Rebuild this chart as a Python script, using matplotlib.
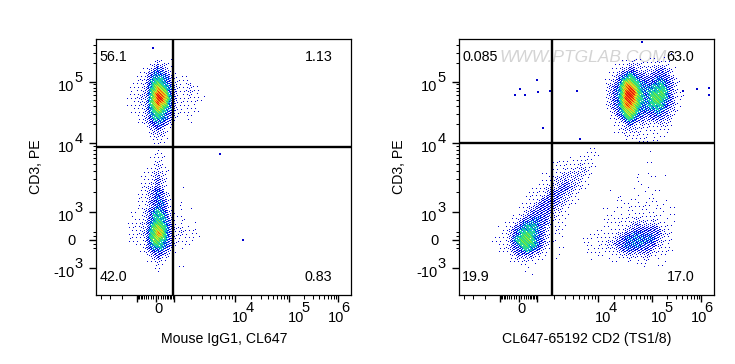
import numpy as np
import matplotlib
matplotlib.use("Agg")
import matplotlib.pyplot as plt
from matplotlib.colors import LinearSegmentedColormap
from matplotlib.transforms import blended_transform_factory

plt.rcParams['font.family'] = ['Liberation Sans', 'DejaVu Sans']

# ---- data: event density, digit 0 (none) .. 9 (peak), one digit per 4 px cell
density_left = [
"00000000100100000000","00000001211000000000","00000012322000000000","00000123432100000000",
"00001234443210100000","00011235554321011000","00111245654321111000","00111246765431112110",
"01111256876431112110","01112257987431112110","01112257997531111111","01112257987431111110",
"01111256876431111100","00111246765431111110","00111245654321111000","00011235554321001000",
"00001234443210001000","00000123432100000000","00000022321000000000","00000012221100000000",
"00000011211000000000","00000001111000000000","00000001100000000000","00000000100000000000",
"00000001110000000000","00000001111000000000","00000001210000000000","00000001211000000000",
"00000011211000000000","00000112221000001000","00001112321000000000","00001112321000000000",
"00001122321000100000","00011123431000000000","00011123432100100000","00011123432100000000",
"00011133443100100000","00011123443100000000","00101234543110100100","00101235554210000000",
"00111235554210100000","00111245654310100100","01112246765321110000","01112256775321211100",
"01112256875321211110","01111256765321111100","01111246654321111000","00011245554310101000",
"00001234443210000000","00000123332100000000","00000012321100000000","00000011210000000000",
"00000001110000100000","00000000100000000000",
]
density_right_top = [
"000000000000010001000","000000100100010101000","000001112111111111000","000011122211122221000",
"000112233222223322100","001123454332233332100","001134565433334433200","011235776544344543210",
"012346887644455543210","012346898654555653210","012346999654566653211","012346998654566654211",
"012346898654566543210","012346887644555543210","001235777544445432210","001234676443334332100",
"001123565332333322100","000112343222222221000","000111232121111211000","000011222111111111000",
"000001211211111010000","000000111111010110000","000000101011011000000",
]
density_right_low = [
"0000000000000000000000000110000000000000100000000",
"0000000000000000000000001111000000000000100000000",
"0000000000000000000010011110000000000000000000000",
"0000000000000000111111111110000000000000100000000",
"0000000000000000011111121110000000000000000000000",
"0000000000000100111212122100000000000000000000000",
"0000000000000110112222221100000000000100100010000",
"0000000000000011122222221100000000000000010000000",
"0000000000001111122322211000000000000100000010000",
"0000000000001112223332211000000000000010100000000",
"0000000000011122233322110000001000001001001000000",
"0000000000111123333221100000000000000101010100000",
"0000000001111233332211100000000011001000110010000",
"0000000001112333332211000000000001010101011010000",
"0000000011123333322110000000010011010111101100100",
"0000000011233333221110000000101000111011010101000",
"0000001112333332211100000000001101011111111100100",
"0000011123344332211100000000011011111211111010000",
"0000011234444332111000000000010111112222121110100",
"0000112345554322111000000000101011122322232111000",
"0001123455554321111000000010101111223333333211000",
"0001123456654321111000000011011122334443433221000",
"0011124566654321101000000110111223444444442211000",
"0111124566654321100000001101112233444444432211000",
"0011123456554321101000001101112233444443332111000",
"0001123345543211001000000111111123343333321111100",
"0000112333322110000000000011110112222222211110000",
"0000011222211100010000000101001011121112111000000",
"0000001111110100000000000000000100110111001010000",
"0000000011000000000000000000000000000001000100000",
"0000000001000000000000000000000000000000000010000",
"0000000000100000000000000000000000000000000000000",
]
# isolated events: channel x, channel y
stray_left_x = [124.5, 147.5, 57.5]
stray_left_y = [141.5, 55.5, 247.5]
stray_right_x = [224.5, 238.5, 250.5, 250.5, 56.5, 61.5, 66.5, 78.5, 79.5, 84.5, 91.5, 118.5, 121.5, 183.5]
stray_right_y = [204.5, 206.5, 207.5, 200.5, 200.5, 206.5, 200.5, 215.5, 203.5, 167.5, 204.5, 204.5, 156.5, 253.5]

x_labels = ["Mouse IgG1, CL647", "CL647-65192 CD2 (TS1/8)"]
y_label = "CD3, PE"
gate_x = [950, 1800]
gate_y = [8800, 9760]
quadrants_left = ["56.1", "1.13", "42.0", "0.83"]
quadrants_right = ["0.085", "63.0", "19.9", "17.0"]

x_major = [-1e3, 0, 1e3, 1e4, 1e5, 1e6]
y_major = [-1e3, 0, 1e3, 1e4, 1e5]
x_minor = [-4000, -3000, -2000] + [s*m for s in (-1, 1) for m in range(100, 1000, 100)] + \
          [m*d for d in (1e3, 1e4, 1e5) for m in range(2, 10)]
y_minor = [-200, -100, 100, 200] + [m*d for d in (1e3, 1e4) for m in range(2, 10)] + [2e5, 3e5, 4e5]

# biexponential axis calibration: value -> channel
x_cal_v = [-1e4, -4e3, -3e3, -2e3, -1e3, 0, 1e3, 1e4, 1e5, 1e6, 2e6]
x_cal_c = [-20, 5, 14, 26, 41, 60, 78, 139, 193.5, 242.5, 258]
y_cal_v = [-1e4, -1e3, 0, 1e3, 1e4, 1e5, 1e6, 2e6]
y_cal_c = [-30, 26.7, 55, 83.3, 152.3, 213.3, 274.2, 292]


def make_scale(cal_v, cal_c):
    sv = np.arcsinh(np.array(cal_v) / 500.0)
    cv = np.array(cal_c, float)
    fwd = lambda v: np.interp(np.arcsinh(np.asarray(v, float) / 500.0), sv, cv)
    inv = lambda c: 500.0 * np.sinh(np.interp(np.asarray(c, float), cv, sv))
    return fwd, inv


xf, xi = make_scale(x_cal_v, x_cal_c)
yf, yi = make_scale(y_cal_v, y_cal_c)

cmap = LinearSegmentedColormap.from_list("flow", [
    (0.0, "#0000d0"), (0.36, "#0010e8"), (0.45, "#10c8f0"), (0.58, "#20e070"),
    (0.72, "#a0e830"), (0.8, "#f0e820"), (0.89, "#ff8810"), (1.0, "#e81010")])

FRAME_TOP, FRAME_BOTTOM = 39, 295
CELL = 4


def rasterise(patches, frame_left):
    """Resample hand-read density cells onto the 1 px channel grid (row 0 = top)."""
    D = np.zeros((256, 256))
    for left, top, rows in patches:
        w = max(len(r) for r in rows)
        a = np.array([[int(ch) for ch in r.ljust(w, "0")] for r in rows], float)
        a = np.pad(a, 1)
        for r in range(256):
            for c in range(256):
                fx = (frame_left + c + 0.5 - (left + CELL/2)) / CELL + 1
                fy = (FRAME_TOP + r + 0.5 - (top + CELL/2)) / CELL + 1
                if 0 <= fx < a.shape[1]-1 and 0 <= fy < a.shape[0]-1:
                    i, j = int(fx), int(fy)
                    u, v = fx-i, fy-j
                    val = (a[j, i]*(1-u)*(1-v) + a[j, i+1]*u*(1-v)
                           + a[j+1, i]*(1-u)*v + a[j+1, i+1]*u*v)
                    D[r, c] = max(D[r, c], val)
    return D


def px_pts(px):
    return px * 72.0 / 100.0


def panel(frame_left, patches, stray_x, stray_y, gx, gy, labels, xlabel, xtitle_px, ytitle_px, lab_left, lab_right):
    fig_w, fig_h = 735.0, 364.0
    ax = fig.add_axes([(frame_left - 0.3)/fig_w, (fig_h-FRAME_BOTTOM)/fig_h, 255.3/fig_w, 256/fig_h])
    ax.set_xscale('function', functions=(xf, xi))
    ax.set_yscale('function', functions=(yf, yi))

    D = rasterise(patches, frame_left)
    # oblique halftone screens that turn the read density into 1 px dots
    R, K = np.mgrid[0:256, 0:256]
    screen = (K * 0.75487766 + R * 0.56984029) % 1.0
    screen2 = (K * 0.38196601 + R * 0.61803399) % 1.0
    p = np.interp(D, [0, 1, 2, 3, 4, 5, 6], [0, .07, .22, .5, .75, .92, 1])
    lev = D + (screen2 - 0.5) * 2.0
    rr, cc = np.nonzero(screen < p)
    ax.scatter(xi(cc + 0.5), yi(255.5 - rr), c=lev[rr, cc], cmap=cmap, vmin=1, vmax=9,
               s=0.5, marker='s', linewidths=0, antialiased=False, zorder=2)
    ax.scatter(xi(np.array(stray_x)), yi(np.array(stray_y)), s=0.7, marker='s', color="#0000d0",
               linewidths=0, antialiased=False, zorder=2)

    ax.axvline(gx, color='black', lw=1.7, zorder=4)
    ax.axhline(gy, color='black', lw=1.7, zorder=4)

    for s in ax.spines.values():
        s.set_linewidth(0.9)
    ax.set_xticks(x_major, labels=[''] * len(x_major))
    ax.set_xticks(x_minor, labels=[''] * len(x_minor), minor=True)
    ax.set_yticks(y_major, labels=[''] * len(y_major))
    ax.set_yticks(y_minor, labels=[''] * len(y_minor), minor=True)
    ax.set_xlim(float(xi(0)), float(xi(255)))
    ax.set_ylim(float(yi(0)), float(yi(256)))
    ax.tick_params(axis='x', which='major', length=px_pts(6.5), width=1.0, direction='out')
    ax.tick_params(axis='y', which='major', length=px_pts(7), width=1.0, direction='out')
    ax.tick_params(axis='both', which='minor', length=px_pts(3.5), width=0.75, direction='out')

    tx = blended_transform_factory(ax.transData, ax.transAxes)
    ty = blended_transform_factory(ax.transAxes, ax.transData)
    fs = 10.5

    def put(s, xy, tr, dx, dy, ha='left'):
        ax.annotate(s, xy=xy, xycoords=tr, xytext=(px_pts(dx), px_pts(dy)), textcoords='offset points',
                    ha=ha, va='baseline', fontsize=fs, color='black', annotation_clip=False)

    put("0", (0, 0), tx, 3, -18, ha='center')
    for v, e, off in [(1e4, "4", -3), (1e5, "5", -2), (1e6, "6", -11)]:
        put("10", (v, 0), tx, off, -27)
        put(e, (v, 0), tx, off + 14, -17.5)
    put("0", (0, 0), ty, -20, -5, ha='right')
    for v, e, base in [(1e3, "3", "10"), (1e4, "4", "10"), (1e5, "5", "10"), (-1e3, "3", "-10")]:
        put(base, (0, v), ty, -21, -9, ha='right')
        put(e, (0, v), ty, -21, 0)

    ax.set_xlabel(xlabel, fontsize=10.2)
    ax.xaxis.set_label_coords((xtitle_px - frame_left) / 255.0, (FRAME_BOTTOM - 339.0) / 256.0)
    ax.xaxis.label.set_va('center')
    ax.set_ylabel(y_label, fontsize=10.2)
    ax.yaxis.set_label_coords((ytitle_px - frame_left) / 255.0, (FRAME_BOTTOM - 167.0) / 256.0)
    ax.yaxis.label.set_va('center')

    def qlab(s, px, py, ha):
        ax.text((px - frame_left) / 255.0, (FRAME_BOTTOM - py) / 256.0, s, transform=ax.transAxes,
                ha=ha, va='center', fontsize=10.3, zorder=5)

    qlab(labels[0], lab_left, 57, 'left')
    qlab(labels[1], lab_right, 57, 'right')
    qlab(labels[2], lab_left, 277, 'left')
    qlab(labels[3], lab_right, 277, 'right')
    return ax


fig = plt.figure(figsize=(7.35, 3.64), dpi=100, facecolor='white')

panel(96, [(124, 56, density_left)], stray_left_x, stray_left_y, gate_x[0], gate_y[0],
      quadrants_left, x_labels[0], 224, 36, 99.5, 332.5)
ax2 = panel(459, [(600, 52, density_right_top), (488, 148, density_right_low)], stray_right_x, stray_right_y,
            gate_x[1], gate_y[1], quadrants_right, x_labels[1], 587, 399, 462.5, 694.5)
ax2.text((583 - 459) / 255.0, (295 - 58) / 256.0, "WWW.PTGLAB.COM", transform=ax2.transAxes, ha='center', va='center',
         fontsize=12.5, style='italic', color='#d4d4d4', zorder=1)

fig.savefig("out.png", dpi=100)
